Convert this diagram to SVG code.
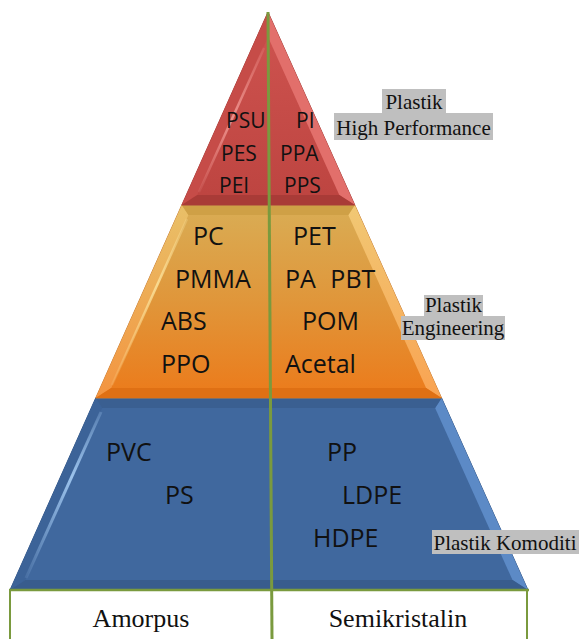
<svg xmlns="http://www.w3.org/2000/svg" width="579" height="639" viewBox="0 0 579 639">
<defs>
<style>
.t{font-family:"Open Sans","Noto Sans","Liberation Sans",sans-serif;fill:#111}
.s{font-size:21px}
.m{font-size:25px}
.lbl{font-family:"Liberation Serif","DejaVu Serif",serif;font-size:21px;fill:#111;text-anchor:middle}
.base{font-family:"Liberation Serif","DejaVu Serif",serif;font-size:26px;fill:#111;text-anchor:middle}
.box{fill:#bfbfbf}
.g{stroke:#7a9a3e;fill:none}
</style>
<linearGradient id="orMain" x1="0" y1="205" x2="0" y2="398" gradientUnits="userSpaceOnUse">
<stop offset="0" stop-color="#d9ad55"/><stop offset="0.5" stop-color="#e0963a"/><stop offset="1" stop-color="#ec7a1a"/>
</linearGradient>
<linearGradient id="orL" x1="0" y1="205" x2="0" y2="398" gradientUnits="userSpaceOnUse">
<stop offset="0" stop-color="#e9c068"/><stop offset="1" stop-color="#f39440"/>
</linearGradient>
<linearGradient id="orR" x1="0" y1="205" x2="0" y2="398" gradientUnits="userSpaceOnUse">
<stop offset="0" stop-color="#f1c874"/><stop offset="1" stop-color="#f9a352"/>
</linearGradient>
<linearGradient id="redMain" x1="0" y1="12" x2="0" y2="205" gradientUnits="userSpaceOnUse">
<stop offset="0" stop-color="#cf5450"/><stop offset="1" stop-color="#bd4440"/>
</linearGradient>
<linearGradient id="hlB" x1="0" y1="408" x2="0" y2="580" gradientUnits="userSpaceOnUse">
<stop offset="0" stop-color="#a6cdf5" stop-opacity="0.2"/><stop offset="0.4" stop-color="#a6cdf5" stop-opacity="0.9"/><stop offset="1" stop-color="#a6cdf5" stop-opacity="0.1"/>
</linearGradient>
<linearGradient id="hlR" x1="0" y1="40" x2="0" y2="195" gradientUnits="userSpaceOnUse">
<stop offset="0" stop-color="#f6a19c" stop-opacity="0.1"/><stop offset="0.5" stop-color="#f6a19c" stop-opacity="0.8"/><stop offset="1" stop-color="#f6a19c" stop-opacity="0.1"/>
</linearGradient>
<linearGradient id="hlO" x1="0" y1="215" x2="0" y2="388" gradientUnits="userSpaceOnUse">
<stop offset="0" stop-color="#fde6a0" stop-opacity="0.2"/><stop offset="0.4" stop-color="#fde6a0" stop-opacity="0.8"/><stop offset="1" stop-color="#fde6a0" stop-opacity="0.1"/>
</linearGradient>
</defs>

<g id="tier-blue">
<polygon points="95.7,398 441.6,398 528,590 10,590" fill="#40689e" stroke="#36598a" stroke-width="1"/>
<polygon points="95.7,398 10,590 25.4,580 102.2,408" fill="#3c6398"/>
<polygon points="441.6,398 528,590 512.5,580 435.1,408" fill="#5c8ac6"/>
<polygon points="95.7,398 441.6,398 435.1,408 102.2,408" fill="#3a5f91"/>
<polygon points="10,590 528,590 512.5,580 25.4,580" fill="#385c8d"/>
<line x1="101" y1="412" x2="26" y2="578" stroke="url(#hlB)" stroke-width="3"/>
<text class="t m" x="106" y="461">PVC</text>
<text class="t m" x="165" y="504">PS</text>
<text class="t m" x="327" y="461">PP</text>
<text class="t m" x="342" y="504">LDPE</text>
<text class="t m" x="313" y="547">HDPE</text>
</g>

<g id="tier-orange">
<polygon points="181.8,205 354.8,205 441.6,398 95.7,398" fill="url(#orMain)" stroke="#c8803a" stroke-width="1"/>
<polygon points="181.8,205 95.7,398 111.2,388 188.4,215" fill="url(#orL)"/>
<polygon points="354.8,205 441.6,398 426.1,388 348.3,215" fill="url(#orR)"/>
<polygon points="181.8,205 354.8,205 348.3,215 188.4,215" fill="#cfa046"/>
<polygon points="95.7,398 441.6,398 426.1,388 111.2,388" fill="#df7014"/>
<line x1="187" y1="219" x2="112" y2="385" stroke="url(#hlO)" stroke-width="2.5"/>
<text class="t m" x="193" y="245">PC</text>
<text class="t m" x="293" y="245">PET</text>
<text class="t m" x="175" y="288">PMMA</text>
<text class="t m" x="285" y="288" style="word-spacing:8px">PA PBT</text>
<text class="t m" x="161" y="330">ABS</text>
<text class="t m" x="302" y="330">POM</text>
<text class="t m" x="161" y="373">PPO</text>
<text class="t m" x="285" y="373">Acetal</text>
</g>

<g id="tier-red">
<polygon points="268,12 354.8,205 181.8,205" fill="url(#redMain)" stroke="#a8403c" stroke-width="1"/>
<polygon points="268,12 181.8,205 197.3,195 268,37" fill="#c64c48"/>
<polygon points="268,12 354.8,205 339.3,195 268,37" fill="#e26f6b"/>
<polygon points="181.8,205 354.8,205 339.3,195 197.3,195" fill="#a93b37"/>
<line x1="264" y1="48" x2="199" y2="192" stroke="url(#hlR)" stroke-width="2.5"/>
<text class="t s" x="226" y="128">PSU</text>
<text class="t s" x="296" y="128">PI</text>
<text class="t s" x="221" y="161">PES</text>
<text class="t s" x="280" y="161">PPA</text>
<text class="t s" x="219" y="193">PEI</text>
<text class="t s" x="284" y="193">PPS</text>
</g>

<g id="connectors">
<line class="g" x1="268" y1="12" x2="272" y2="639" stroke-width="3"/>
<line class="g" x1="9" y1="590" x2="529" y2="590" stroke-width="2.5"/>
<line class="g" x1="10" y1="590" x2="10" y2="639" stroke-width="2"/>
<line class="g" x1="527" y1="590" x2="527" y2="639" stroke-width="2"/>
</g>

<g id="label-high-performance">
<rect class="box" x="382" y="89" width="64" height="24"/>
<rect class="box" x="334" y="113" width="159" height="27"/>
<text class="lbl" x="414" y="109">Plastik</text>
<text class="lbl" x="413.5" y="135">High Performance</text>
</g>

<g id="label-engineering">
<rect class="box" x="424" y="295" width="59" height="21"/>
<rect class="box" x="401" y="316" width="104" height="24"/>
<text class="lbl" x="453.5" y="312">Plastik</text>
<text class="lbl" x="453" y="335">Engineering</text>
</g>

<g id="label-komoditi">
<rect class="box" x="432" y="530" width="147" height="24"/>
<text class="lbl" x="505" y="550">Plastik Komoditi</text>
</g>

<g id="col-amorpus">
<text class="base" x="141" y="627">Amorpus</text>
</g>
<g id="col-semikristalin">
<text class="base" x="398" y="627">Semikristalin</text>
</g>
</svg>
